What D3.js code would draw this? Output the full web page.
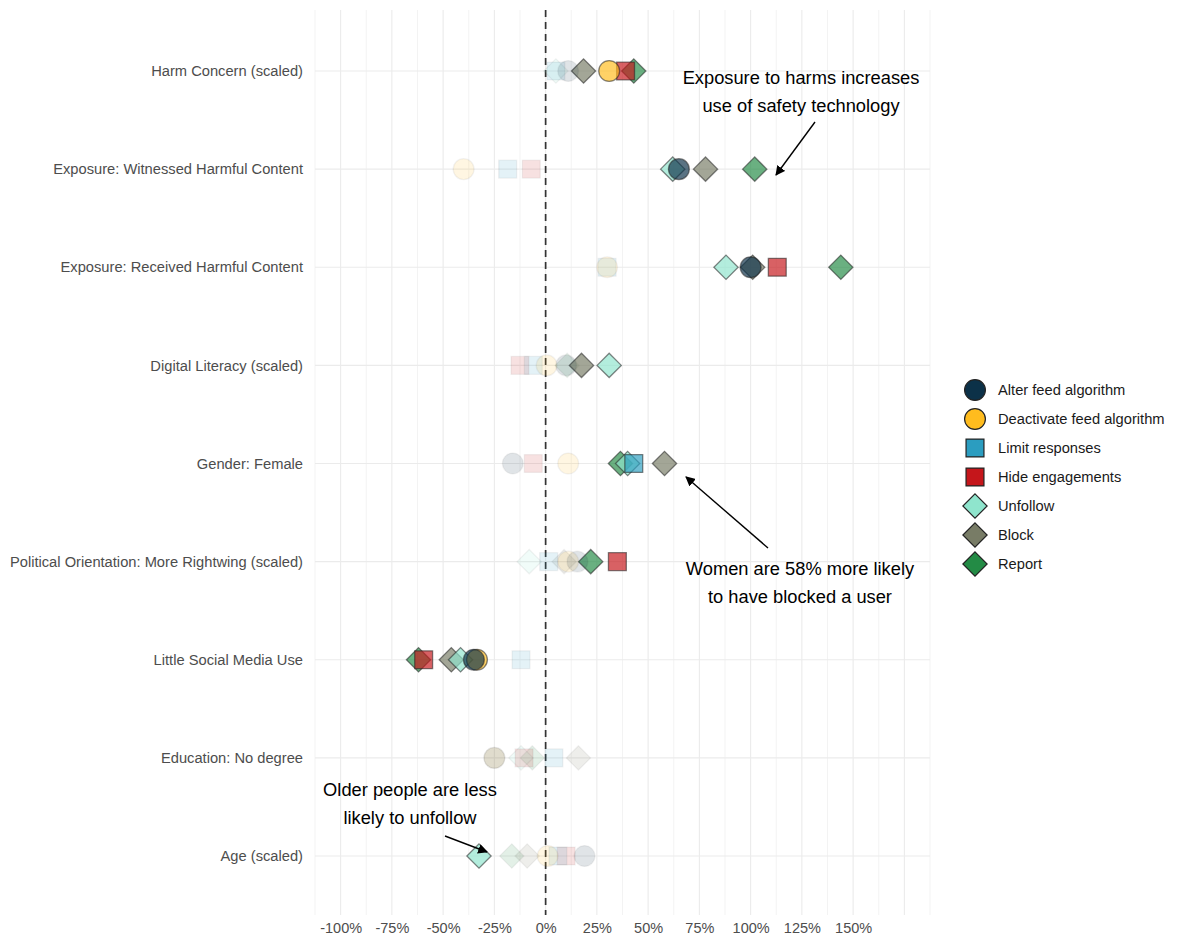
<!DOCTYPE html>
<html>
<head>
<meta charset="utf-8">
<script src="https://cdn.jsdelivr.net/npm/d3@7"></script>
<style>
  body { margin: 0; background: #fff; font-family: "Liberation Sans", Arial, sans-serif; }
</style>
</head>
<body>
<div id="chart-area"></div>
<script>
// rows, top to bottom
var categories = ["Harm Concern (scaled)", "Exposure: Witnessed Harmful Content", "Exposure: Received Harmful Content",
  "Digital Literacy (scaled)", "Gender: Female", "Political Orientation: More Rightwing (scaled)",
  "Little Social Media Use", "Education: No degree", "Age (scaled)"];

var seriesNames = ["Alter feed algorithm", "Deactivate feed algorithm", "Limit responses", "Hide engagements", "Unfollow", "Block", "Report"];
var seriesColors = ["#0c3148", "#ffbc1e", "#2b9dc0", "#c5161b", "#8fe5cd", "#787c66", "#238b45"];
var seriesShapes = ["circle", "circle", "square", "square", "diamond", "diamond", "diamond"];

// effect estimates (fraction), one per category
var alterFeed   = [0.11, 0.65, 1.00, 0.10, -0.16, 0.155, -0.35, -0.25, 0.19];
var deactivate  = [0.31, -0.40, 0.30, 0.005, 0.11, 0.11, -0.335, -0.25, 0.01];
var limitResp   = [0.05, -0.185, 0.30, -0.06, 0.43, 0.015, -0.12, 0.04, 0.06];
var hideEngage  = [0.39, -0.07, 1.13, -0.125, -0.06, 0.35, -0.595, -0.105, 0.10];
var unfollow    = [0.05, 0.62, 0.88, 0.31, 0.40, -0.08, -0.415, -0.12, -0.325];
var block       = [0.185, 0.78, 1.01, 0.175, 0.58, 0.09, -0.46, 0.16, -0.09];
var report      = [0.43, 1.02, 1.44, 0.105, 0.365, 0.22, -0.62, -0.065, -0.165];

// significance (1 = solid, 0 = faded)
var alterSig      = [0, 1, 1, 0, 0, 0, 1, 0, 0];
var deactivateSig = [1, 0, 0, 0, 0, 0, 1, 0, 0];
var limitSig      = [0, 0, 0, 0, 1, 0, 0, 0, 0];
var hideSig       = [1, 0, 1, 0, 0, 1, 1, 0, 0];
var unfollowSig   = [0, 1, 1, 1, 1, 0, 1, 0, 1];
var blockSig      = [1, 1, 1, 1, 1, 0, 1, 0, 0];
var reportSig     = [1, 1, 1, 0, 1, 1, 1, 0, 0];

var xTicks = [-1, -0.75, -0.5, -0.25, 0, 0.25, 0.5, 0.75, 1, 1.25, 1.5];
var gridBreaks = d3.range(-1.125, 1.876, 0.125);

var allValues = [alterFeed, deactivate, limitResp, hideEngage, unfollow, block, report];
var allSig = [alterSig, deactivateSig, limitSig, hideSig, unfollowSig, blockSig, reportSig];

var font = "'Liberation Sans', Arial, sans-serif";
var width = 1177, height = 941;
var svg = d3.select("#chart-area").append("svg")
  .attr("width", width).attr("height", height);

var x = d3.scaleLinear().domain([-1.125, 1.875]).range([315, 930]);
var y = d3.scalePoint().domain(categories).range([71, 856]);
var panelTop = 10, panelBottom = 915;

// grid
var grid = svg.append("g");
grid.selectAll("line.v").data(gridBreaks).enter().append("line")
  .attr("x1", function(d){ return x(d); }).attr("x2", function(d){ return x(d); })
  .attr("y1", panelTop).attr("y2", panelBottom)
  .attr("stroke", "#ebebeb").attr("stroke-width", function(d){
    return Math.abs(Math.round(d * 8) % 2) === 0 ? 1.1 : 0.6; });
grid.selectAll("line.h").data(categories).enter().append("line")
  .attr("x1", 315).attr("x2", 930)
  .attr("y1", function(d){ return y(d); }).attr("y2", function(d){ return y(d); })
  .attr("stroke", "#ebebeb").attr("stroke-width", 1.1);

// zero line
svg.append("line")
  .attr("x1", x(0)).attr("x2", x(0)).attr("y1", panelTop).attr("y2", panelBottom)
  .attr("stroke", "#333").attr("stroke-width", 1.7).attr("stroke-dasharray", "7,5");

// axes
var xAxisCall = d3.axisBottom(x).tickValues(xTicks).tickSize(0).tickPadding(6)
  .tickFormat(function(d){ return Math.round(d * 100) + "%"; });
var xAxisGroup = svg.append("g").attr("transform", "translate(0," + (panelBottom + 2) + ")").call(xAxisCall);
xAxisGroup.select(".domain").remove();
xAxisGroup.selectAll("text").attr("font-size", "14.5px").attr("fill", "#4d4d4d")
  .attr("font-family", font);

var yAxisCall = d3.axisLeft(y).tickSize(0).tickPadding(10);
var yAxisGroup = svg.append("g").attr("transform", "translate(313,0)").call(yAxisCall);
yAxisGroup.select(".domain").remove();
yAxisGroup.selectAll("text").attr("font-size", "14.7px").attr("fill", "#4d4d4d")
  .attr("font-family", font);

function shapePath(shape, s) {
  if (shape === "circle") return d3.symbol().type(d3.symbolCircle).size(s)();
  if (shape === "square") return d3.symbol().type(d3.symbolSquare).size(s)();
  var r = Math.sqrt(s) * 0.88;
  return "M0," + (-r) + "L" + r + ",0L0," + r + "L" + (-r) + ",0Z";
}
var shapeSize = { circle: 340, square: 320, diamond: 190 };

// points, drawn last series first
var points = svg.append("g");
for (var k = seriesNames.length - 1; k >= 0; k--) {
  var rows = categories.map(function(c, i){ return { cat: c, v: allValues[k][i], sig: allSig[k][i] }; });
  points.selectAll("path.s" + k).data(rows).enter().append("path")
    .attr("class", "s" + k)
    .attr("transform", function(d){ return "translate(" + x(d.v) + "," + y(d.cat) + ")"; })
    .attr("d", shapePath(seriesShapes[k], shapeSize[seriesShapes[k]]))
    .attr("fill", seriesColors[k])
    .attr("fill-opacity", function(d){ return d.sig ? 0.68 : 0.13; })
    .attr("stroke", "#222")
    .attr("stroke-opacity", function(d){ return d.sig ? 0.55 : 0.06; })
    .attr("stroke-width", 1.3);
}

// legend
var legend = svg.append("g").attr("transform", "translate(975,390)");
seriesNames.forEach(function(name, k) {
  var lg = legend.append("g").attr("transform", "translate(0," + (k * 29) + ")");
  lg.append("path").attr("d", shapePath(seriesShapes[k], shapeSize[seriesShapes[k]]))
    .attr("fill", seriesColors[k]).attr("stroke", "#222").attr("stroke-width", 1.2);
  lg.append("text").attr("x", 23).attr("y", 5).attr("font-size", "14.7px").attr("fill", "#1a1a1a")
    .attr("font-family", font).text(name);
});

// annotations
svg.append("defs").append("marker").attr("id", "arrow")
  .attr("viewBox", "0 0 10 10").attr("refX", 9).attr("refY", 5)
  .attr("markerWidth", 7).attr("markerHeight", 7).attr("orient", "auto")
  .append("path").attr("d", "M0,0L10,5L0,10Z").attr("fill", "#000");

function note(lines, cx, cy) {
  var t = svg.append("text").attr("text-anchor", "middle").attr("font-size", "18.3px").attr("fill", "#000")
    .attr("font-family", font);
  lines.forEach(function(l, i){ t.append("tspan").attr("x", cx).attr("y", cy + i * 28).text(l); });
}
function arrow(x1, y1, x2, y2) {
  svg.append("line").attr("x1", x1).attr("y1", y1).attr("x2", x2).attr("y2", y2)
    .attr("stroke", "#000").attr("stroke-width", 1.4).attr("marker-end", "url(#arrow)");
}
note(["Exposure to harms increases", "use of safety technology"], 801, 84);
arrow(815, 122, 776, 175);
note(["Women are 58% more likely", "to have blocked a user"], 800, 575);
arrow(768, 548, 686, 477);
note(["Older people are less", "likely to unfollow"], 410, 796);
arrow(445, 836, 487, 852);
</script>
</body>
</html>
